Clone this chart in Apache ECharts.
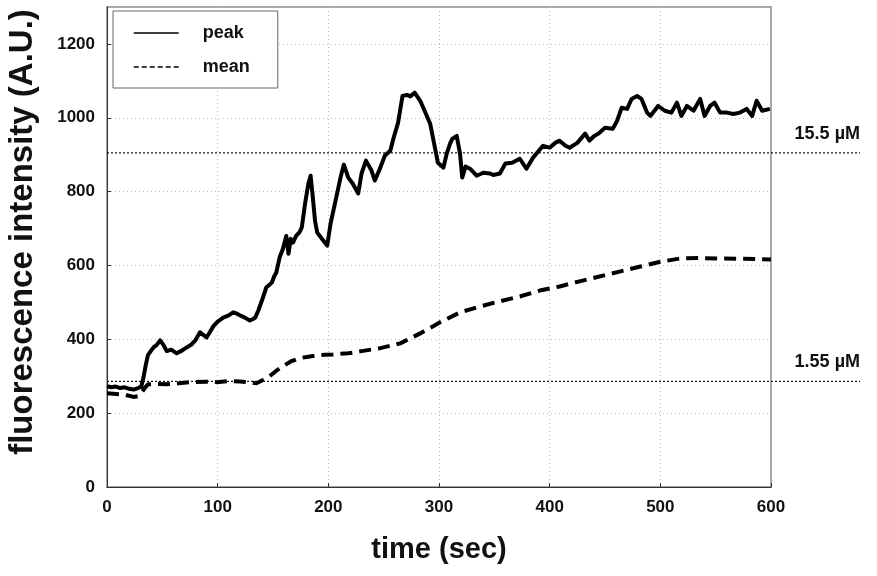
<!DOCTYPE html>
<html>
<head>
<meta charset="utf-8">
<script src="https://cdn.jsdelivr.net/npm/echarts@6/dist/echarts.min.js"></script>
<style>
  html, body { margin: 0; padding: 0; background: #fff; }
  #chart { width: 877px; height: 576px; }
</style>
</head>
<body>
<div id="chart"></div>
<script>
// time (sec) / intensity
const peakT = [0, 4, 8, 12, 16, 20, 24, 28, 31, 33, 35, 37, 40, 42, 45, 48, 51, 54, 58, 63, 68, 72, 76, 80, 84, 87, 90, 93, 96, 100,
  105, 110, 114, 117, 120, 125, 129, 132, 134, 137, 140, 144, 147, 149, 151, 153, 156, 159, 162, 164, 166, 168, 171, 174, 176,
  179, 182, 184, 186, 188, 190, 194, 199, 202, 206, 211, 214, 218, 222, 227, 230, 234, 239, 242, 247, 251, 256, 259, 263, 267,
  271, 274, 278, 283, 287, 292, 296, 299, 304, 307, 310, 312, 316, 319, 321, 324, 328, 334, 340, 346, 349, 355, 360, 366, 373,
  379, 385, 394, 400, 405, 409, 414, 418, 425, 432, 436, 440, 444, 450, 457, 461, 465, 470, 474, 479, 483, 488, 491, 498, 504,
  510, 515, 519, 524, 530, 536, 540, 545, 549, 554, 560, 566, 572, 578, 583, 587, 592, 599];
const peakV = [273, 270, 272, 268, 270, 266, 264, 268, 272, 297, 330, 357, 370, 378, 385, 397, 385, 368, 372, 362, 370, 378, 385, 398, 419, 412, 405, 420, 435, 448,
  459, 465, 473, 470, 465, 458, 451, 455, 459, 480, 505, 541, 548, 554, 570, 581, 622, 645, 680, 632, 672, 662, 681, 690, 703,
  768, 822, 843, 784, 720, 689, 673, 654, 713, 768, 838, 873, 838, 822, 795, 849, 884, 857, 830, 865, 897, 911, 946, 986, 1059,
  1062, 1058, 1068, 1046, 1019, 984, 924, 878, 865, 903, 930, 943, 951, 903, 838, 868, 862, 843, 851, 849, 845, 849, 876, 878, 889,
  862, 892, 924, 919, 932, 938, 925, 919, 932, 957, 938, 950, 957, 973, 970, 992, 1027, 1024, 1051, 1059, 1051, 1014, 1005, 1032, 1019,
  1014, 1041, 1005, 1032, 1019, 1051, 1005, 1032, 1041, 1014, 1014, 1010, 1014, 1024, 1005, 1046, 1019, 1024];

const meanT = [0, 8, 16, 24, 28, 31, 34, 37, 45, 54, 65, 75, 90, 99, 110, 120, 128, 135, 141, 147, 153, 159, 166, 174, 182, 190,
  197, 204, 211, 218, 230, 247, 265, 283, 301, 319, 337, 355, 373, 391, 409, 427, 445, 464, 482, 500, 518, 536, 554, 572, 590, 600];
const meanV = [254, 252, 250, 244, 246, 254, 268, 278, 279, 278, 281, 284, 285, 284, 287, 286, 284, 281, 290, 300, 315, 327, 340, 349, 353, 357,
  358, 359, 361, 362, 368, 376, 389, 416, 446, 473, 489, 503, 516, 532, 543, 557, 570, 584, 597, 610, 619, 620, 619, 618, 617, 616];

// concentration reference levels
const refNames = ['15.5 µM', '1.55 µM'];
const refValues = [905, 286];

const xTicks = { min: 0, max: 600, interval: 100 };
const yTicks = { min: 0, max: 1300, interval: 200 };

const font = "'Liberation Sans', Arial, sans-serif";

const pairs = (xs, ys) => xs.map((x, i) => [x, ys[i]]);

const chart = echarts.init(document.getElementById('chart'));

const refSeries = refValues.map((v, i) => ({
  name: refNames[i],
  type: 'line',
  xAxisIndex: 1,
  yAxisIndex: 1,
  symbol: 'circle',
  symbolSize: 2,
  itemStyle: { color: 'rgba(0,0,0,0)' },
  lineStyle: { color: '#111', width: 1.2, type: [2, 2] },
  data: [
    [0, v],
    {
      value: [1, v],
      label: {
        show: true, position: 'top', align: 'right', distance: 9,
        formatter: refNames[i],
        color: '#111', fontFamily: font, fontWeight: 'bold', fontSize: 18
      }
    }
  ],
  silent: true,
  z: 1
}));

chart.setOption({
  animation: false,
  backgroundColor: '#fff',
  grid: [
    { left: 107, right: 106, top: 7, bottom: 89, outerBoundsMode: 'none', show: true, borderColor: '#888', borderWidth: 1.5 },
    { left: 107, right: 17, top: 7, bottom: 89, outerBoundsMode: 'none' }
  ],
  legend: {
    left: 113, top: 11, orient: 'vertical',
    padding: [13, 28, 12, 20],
    itemGap: 16,
    itemWidth: 45, itemHeight: 14,
    borderColor: '#666', borderWidth: 1,
    backgroundColor: '#fff',
    itemStyle: { opacity: 0 },
    textStyle: { fontFamily: font, fontSize: 18, fontWeight: 'bold', color: '#111', padding: [0, 0, 0, 19] },
    data: [
      { name: 'peak', lineStyle: { width: 1.5, type: 'solid' } },
      { name: 'mean', lineStyle: { width: 1.5, type: [5, 3] } }
    ]
  },
  xAxis: [
    {
      type: 'value', min: xTicks.min, max: xTicks.max, interval: xTicks.interval,
      name: 'time (sec)', nameLocation: 'middle', nameGap: 48,
      nameTextStyle: { fontFamily: font, fontSize: 29, fontWeight: 'bold', color: '#111' },
      axisLine: { lineStyle: { color: '#333', width: 1 } },
      axisTick: { inside: true, length: 4, lineStyle: { color: '#333' } },
      axisLabel: { margin: 12, fontFamily: font, fontSize: 17, fontWeight: 'bold', color: '#111' },
      splitLine: { show: true, lineStyle: { color: '#bbb', type: [1, 3] } }
    },
    { type: 'value', gridIndex: 1, min: 0, max: 1, show: false }
  ],
  yAxis: [
    {
      type: 'value', min: yTicks.min, max: yTicks.max, interval: yTicks.interval,
      name: 'fluorescence intensity (A.U.)', nameLocation: 'middle', nameGap: 68,
      nameTextStyle: { fontFamily: font, fontSize: 33, fontWeight: 'bold', color: '#111', padding: [0, 0, 0, 30] },
      axisLine: { lineStyle: { color: '#333', width: 1 } },
      axisTick: { inside: true, length: 4, lineStyle: { color: '#333' } },
      axisLabel: {
        margin: 12, showMaxLabel: false, formatter: (v) => String(v),
        fontFamily: font, fontSize: 17, fontWeight: 'bold', color: '#111'
      },
      splitLine: { show: true, lineStyle: { color: '#bbb', type: [1, 3] } }
    },
    { type: 'value', gridIndex: 1, min: yTicks.min, max: yTicks.max, show: false }
  ],
  series: [
    {
      name: 'peak', type: 'line', symbol: 'none',
      lineStyle: { color: '#000', width: 4, join: 'round' },
      itemStyle: { color: '#000' },
      data: pairs(peakT, peakV), z: 3
    },
    {
      name: 'mean', type: 'line', symbol: 'none',
      lineStyle: { color: '#000', width: 4, type: [12, 7] },
      itemStyle: { color: '#000' },
      data: pairs(meanT, meanV), z: 3
    },
    ...refSeries
  ]
});
</script>
</body>
</html>
